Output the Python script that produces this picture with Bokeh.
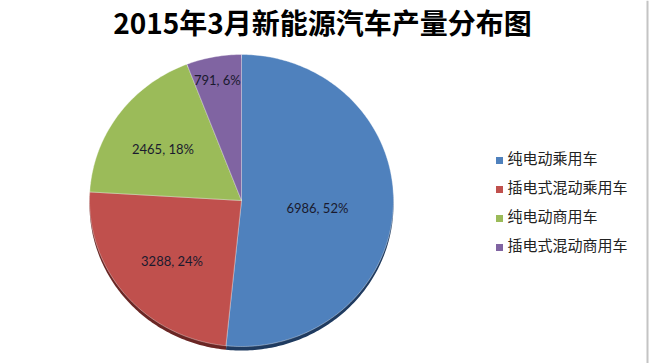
import numpy as np
from bokeh.plotting import figure
from bokeh.models import Range1d, Span
from bokeh.core.properties import value
from bokeh.embed import file_html
from bokeh.resources import INLINE

# Production of new-energy vehicles, March 2015
title = "2015年3月新能源汽车产量分布图"
categories = ["纯电动乘用车", "插电式混动乘用车", "纯电动商用车", "插电式混动商用车"]
units = [6986, 3288, 2465, 791]

colors = ["#4F81BD", "#C0504D", "#9BBB59", "#8064A2"]
rim_colors = ["#1F3B60", "#6A2624", "#55682F", "#45355A"]
label_radius = [0.50, 0.60, 0.64, 0.87]

W, H = 653, 363
cx, cy = 241, 200          # pie centre (screen-like coords, y grows downward)
rx, ry = 152, 146          # slightly flattened pie
depth = 4

p = figure(width=W, height=H, output_backend="svg", toolbar_location=None,
           x_range=Range1d(0, W), y_range=Range1d(H, 0),
           min_border=0, outline_line_color=None, background_fill_color="white")
p.axis.visible = False
p.grid.visible = False

vals = np.array(units, dtype=float)
frac = vals / vals.sum()
ends = np.cumsum(frac)
starts = ends - frac


def slice_poly(f0, f1, dy=0.0):
    # angle measured clockwise from 12 o'clock
    t = np.linspace(f0, f1, max(int((f1 - f0) * 400), 8)) * 2 * np.pi
    xs = np.concatenate([[cx], cx + rx * np.sin(t), [cx]])
    ys = np.concatenate([[cy + dy], cy + dy - ry * np.cos(t), [cy + dy]])
    return list(xs), list(ys)


rim = [slice_poly(a, b, depth) for a, b in zip(starts, ends)]
p.patches([r[0] for r in rim], [r[1] for r in rim], fill_color=rim_colors, line_color=None)

top = [slice_poly(a, b) for a, b in zip(starts, ends)]
p.patches([r[0] for r in top], [r[1] for r in top], fill_color=colors,
          line_color="white", line_width=0.6, line_alpha=0.6)

# data labels: "value, percent"
mids = (starts + ends) / 2 * 2 * np.pi
lx = cx + rx * np.array(label_radius) * np.sin(mids)
ly = cy - ry * np.array(label_radius) * np.cos(mids) + 4
labels = [f"{u}, {round(f * 100)}%" for u, f in zip(units, frac)]
p.text(x=list(lx), y=list(ly), text=labels, text_font=value("Lato"),
       text_font_size="13px", text_color="#1a1a2e",
       text_align="center", text_baseline="middle")

# title
p.text(x=[322], y=[21], text=[title], text_font=value("Noto Sans CJK SC"),
       text_font_style="bold", text_font_size="28px", text_color="#000000",
       text_align="center", text_baseline="middle")

# legend
ly0, lstep = 159, 29
leg_y = [ly0 + i * lstep for i in range(len(categories))]
p.rect(x=[499] * len(categories), y=[v + 1 for v in leg_y], width=7, height=7,
       fill_color=colors, line_color=None)
p.text(x=[507] * len(categories), y=[v - 2 for v in leg_y], text=categories,
       text_font=value("Noto Sans CJK SC"), text_font_size="15px",
       text_color="#222222", text_align="left", text_baseline="middle")

p.add_layout(Span(location=647, dimension="height", line_color="#c4c4c4", line_width=2))

open("out.html", "w").write(file_html(p, INLINE))
